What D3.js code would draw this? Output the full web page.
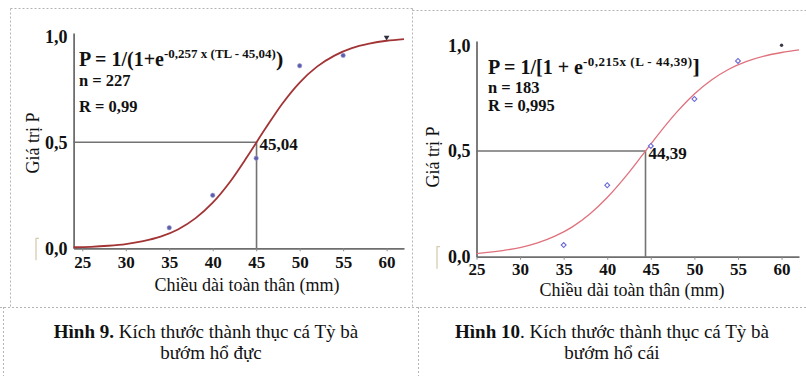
<!DOCTYPE html>
<html>
  <head>
    <meta charset="UTF-8" />
    <script src="https://cdn.jsdelivr.net/npm/d3@7"></script>
    <style>
      body { margin: 0; background: #fff; }
    </style>
  </head>
  <body>
    <svg></svg>
    <script>
      // 1. data
      const lengths = [35, 40, 45, 50, 55, 60]
      const maleP = [0.097, 0.25, 0.425, 0.861, 0.91, 1.0]
      const femaleP = [0.055, 0.338, 0.524, 0.746, 0.926, 1.0]

      // fitted curves
      const maleCurveX = [24, 26, 28, 30, 32, 34, 36, 38, 40, 42, 44, 46, 48, 50, 52, 54, 56, 58, 60, 62]
      const maleCurveP = [0.005, 0.007, 0.012, 0.02, 0.034, 0.055, 0.089, 0.141, 0.215, 0.314, 0.434, 0.561, 0.682, 0.782, 0.857, 0.909, 0.944, 0.965, 0.979, 0.987]
      const femaleCurveX = [25, 26, 28, 30, 32, 34, 36, 38, 40, 42, 44, 46, 48, 50, 52, 54, 56, 58, 60, 62]
      const femaleCurveP = [0.015, 0.019, 0.029, 0.043, 0.065, 0.097, 0.141, 0.202, 0.28, 0.374, 0.479, 0.586, 0.685, 0.77, 0.837, 0.888, 0.924, 0.949, 0.966, 0.978]

      const xTicks = [25, 30, 35, 40, 45, 50, 55, 60]
      const yTicks = [0, 0.5, 1]
      const l50 = [45.04, 44.39]
      const eqMain = ['P = 1/(1+e', 'P = 1/[1 + e']
      const eqSup = ['-0,257 x (TL - 45,04)', '-0,215x (L - 44,39)']
      const eqEnd = [')', ']']
      const eqN = ['n = 227', 'n = 183']
      const eqR = ['R = 0,99', 'R = 0,995']
      const xTitle = 'Chiều dài toàn thân (mm)'
      const yTitle = 'Giá trị P'
      const capBold = ['Hình 9.', 'Hình 10']
      const capRest = [' Kích thước thành thục cá Tỳ bà', '. Kích thước thành thục cá Tỳ bà']
      const capLine2 = ['bướm hổ đực', 'bướm hổ cái']

      // 2. svg
      const width = 806
      const height = 376
      const serif = '"Liberation Serif", "Times New Roman", serif'
      const comma = (d) => d.toFixed(1).replace('.', ',')

      const svg = d3
        .select('svg')
        .attr('width', width)
        .attr('height', height)
        .style('font-family', serif)

      // table borders
      const border = svg
        .append('g')
        .attr('stroke', '#b4b4b4')
        .attr('stroke-width', 1)
        .attr('stroke-dasharray', '2,2')
        .attr('fill', 'none')
      border.append('path').attr('d', 'M10.5,8.5H412.5M412.5,10.5H806')
      border.append('path').attr('d', 'M10.5,8.5V307M412.5,8.5V307')
      border.append('path').attr('d', 'M0,307.5H806')
      border.append('path').attr('d', 'M3.5,307V376M418.5,307V376')

      const panels = [
        {
          xd: [24, 62], xr: [73.6, 404], yr: [248.3, 36.3], yTop: 1.015,
          pts: maleP, cx: maleCurveX, cy: maleCurveP, l50: l50[0],
          curve: '#a33436', curveW: 1.8, marker: 'circle', tickPad: 5,
          eqX: 79, eqY: [66, 86, 112], supLs: 0,
          xTitle: [247, 291], yTitle: [39, 143], bracket: 36,
          cap: [206, 338, 359],
        },
        {
          xd: [25, 62], xr: [476.5, 799], yr: [256.7, 45.3], yTop: 1.02,
          pts: femaleP, cx: femaleCurveX, cy: femaleCurveP, l50: l50[1],
          curve: '#e0707c', curveW: 1.3, marker: 'diamond', tickPad: 3,
          eqX: 488, eqY: [74, 93, 110.5], supLs: 0.5,
          xTitle: [632, 296], yTitle: [439, 157], bracket: 437,
          cap: [612, 338, 359],
        },
      ]

      panels.forEach((p, i) => {
        const x = d3.scaleLinear(p.xd, p.xr)
        const y = d3.scaleLinear([0, 1], p.yr)
        const g = svg.append('g')

        // reference lines at P = 0.5
        g.append('path')
          .attr('fill', 'none')
          .attr('stroke', '#737373')
          .attr('stroke-width', 1.6)
          .attr('d', `M${x.range()[0]},${y(0.5)}H${x(p.l50)}V${y(0)}`)

        // axes
        const xAxis = g
          .append('g')
          .attr('transform', `translate(0,${y(0)})`)
          .call(d3.axisBottom(x).tickValues(xTicks).tickSize(3).tickSizeOuter(0).tickPadding(p.tickPad))
        const yAxis = g
          .append('g')
          .attr('transform', `translate(${x.range()[0]},0)`)
          .call(
            d3.axisLeft(y.copy().domain([0, p.yTop]).range([p.yr[0], p.yr[0] - (p.yr[0] - p.yr[1]) * p.yTop]))
              .tickValues(yTicks).tickSize(0).tickPadding(6).tickFormat(comma)
          )
        ;[xAxis, yAxis].forEach((a) => {
          a.select('.domain').attr('stroke', '#6e6e6e').attr('stroke-width', 1.8)
          a.selectAll('.tick line').attr('stroke', '#8a8a8a')
          a.selectAll('.tick text')
            .attr('fill', '#111')
            .style('font-family', serif)
            .style('font-weight', 'bold')
            .style('font-size', '17px')
        })
        yAxis.selectAll('.tick text').style('font-size', '18px')

        // fitted curve
        g.append('path')
          .datum(d3.zip(p.cx, p.cy))
          .attr('fill', 'none')
          .attr('stroke', p.curve)
          .attr('stroke-width', p.curveW)
          .attr('d', d3.line().x((d) => x(d[0])).y((d) => y(d[1])).curve(d3.curveMonotoneX))

        // observed points
        const pts = d3.zip(lengths, p.pts)
        const last = pts.length - 1
        if (p.marker === 'circle') {
          g.selectAll('.pt')
            .data(pts.slice(0, last))
            .join('circle')
            .attr('cx', (d) => x(d[0]))
            .attr('cy', (d) => y(d[1]))
            .attr('r', 2.2)
            .attr('fill', '#5d5fae')
            .attr('stroke', '#9a9ccc')
            .attr('stroke-width', 0.6)
          g.append('path')
            .attr('d', d3.symbol(d3.symbolTriangle, 14)())
            .attr('fill', '#2e2e3e')
            .attr('transform', `translate(${x(pts[last][0])},${y(pts[last][1]) + 1}) rotate(180)`)
        } else {
          g.selectAll('.pt')
            .data(pts.slice(0, last))
            .join('path')
            .attr('transform', (d) => `translate(${x(d[0])},${y(d[1])}) rotate(45)`)
            .attr('d', d3.symbol(d3.symbolSquare, 12)())
            .attr('fill', '#fff')
            .attr('stroke', '#6a6ad6')
            .attr('stroke-width', 1.1)
          g.append('circle')
            .attr('cx', x(pts[last][0]))
            .attr('cy', y(pts[last][1]))
            .attr('r', 1.7)
            .attr('fill', '#3a3a4a')
        }

        // L50 label
        g.append('text')
          .attr('x', x(p.l50) + 3)
          .attr('y', y(0.5) + 8)
          .style('font-weight', 'bold')
          .style('font-size', '17px')
          .attr('fill', '#111')
          .text(p.l50.toFixed(2).replace('.', ','))

        // equation block
        const eq = g.append('text')
          .attr('x', p.eqX)
          .attr('y', p.eqY[0])
          .attr('fill', '#111')
          .style('font-weight', 'bold')
          .style('font-size', '20px')
        eq.append('tspan').text(eqMain[i])
        eq.append('tspan')
          .attr('dy', -8)
          .style('font-size', '13px')
          .style('letter-spacing', p.supLs + 'px')
          .text(eqSup[i])
        eq.append('tspan').attr('dy', 8).style('font-size', '22px').text(eqEnd[i])
        ;[eqN[i], eqR[i]].forEach((t, k) => {
          g.append('text')
            .attr('x', p.eqX)
            .attr('y', p.eqY[k + 1])
            .attr('fill', '#111')
            .style('font-weight', 'bold')
            .style('font-size', '16.5px')
            .text(t)
        })

        // axis titles
        g.append('text')
          .attr('x', p.xTitle[0])
          .attr('y', p.xTitle[1])
          .attr('text-anchor', 'middle')
          .attr('fill', '#111')
          .style('font-size', '18px')
          .text(xTitle)
        g.append('text')
          .attr('transform', `translate(${p.yTitle[0]},${p.yTitle[1]}) rotate(-90)`)
          .attr('text-anchor', 'middle')
          .attr('fill', '#111')
          .style('font-size', '18px')
          .text(yTitle)

        // faint bracket mark left of 0,0
        g.append('path')
          .attr('fill', 'none')
          .attr('stroke', '#d6ccb2')
          .attr('stroke-width', 1.3)
          .attr('d', `M${p.bracket + 3},${y(0) - 10}H${p.bracket}V${y(0) + 12}`)

        // caption
        const c1 = g.append('text')
          .attr('x', p.cap[0])
          .attr('y', p.cap[1])
          .attr('text-anchor', 'middle')
          .attr('fill', '#111')
          .style('font-size', '19px')
        c1.append('tspan').style('font-weight', 'bold').text(capBold[i])
        c1.append('tspan').text(capRest[i])
        g.append('text')
          .attr('x', p.cap[0] + (i === 0 ? 5 : 0))
          .attr('y', p.cap[2])
          .attr('text-anchor', 'middle')
          .attr('fill', '#111')
          .style('font-size', '19px')
          .text(capLine2[i])
      })
    </script>
  </body>
</html>
